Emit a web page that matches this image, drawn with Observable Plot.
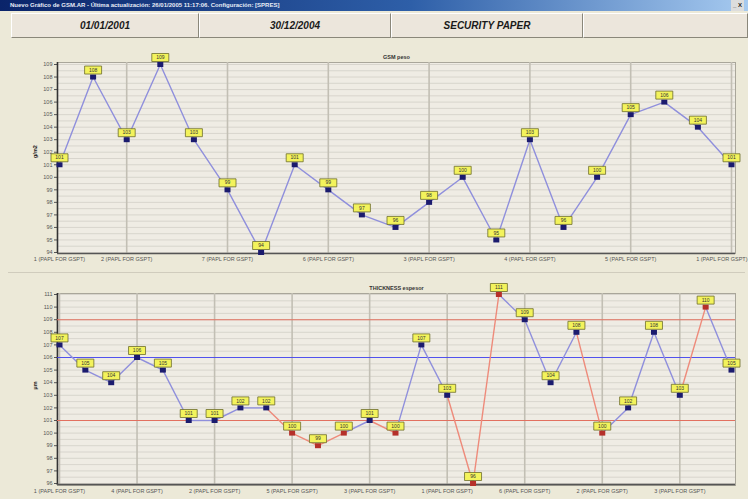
<!DOCTYPE html>
<html><head><meta charset="utf-8">
<script src="https://cdn.jsdelivr.net/npm/d3@7"></script>
<script src="https://cdn.jsdelivr.net/npm/@observablehq/plot@0.6"></script>
<style>
body{margin:0;width:748px;height:499px;overflow:hidden;background:#ece9d8;font-family:"Liberation Sans",Arial,sans-serif;position:relative}
#titlebar{position:absolute;left:0;top:0;width:748px;height:11px;background:linear-gradient(to right,#0a246a,#2e5fa8 55%,#a6caf0);color:#e8ecf6;font-size:6px;line-height:11px;font-weight:bold;white-space:nowrap;overflow:hidden}
#titlebar span{padding-left:10px}
#toolbar{position:absolute;top:13px;left:11px;width:735px;height:25px;display:flex}
.cell{flex:none;height:23px;border-top:1px solid #fff;border-left:1px solid #fff;border-right:1px solid #8a877a;border-bottom:1px solid #8a877a;background:#ece6dc;display:flex;align-items:center;justify-content:center;font-style:italic;font-weight:bold;font-size:10px;color:#1a1a1a}
#top{position:absolute;left:0;top:44px}
#bot{position:absolute;left:0;top:275px}
#sep{position:absolute;left:8px;top:272px;width:737px;height:1px;background:#d0ccbd}
</style></head>
<body>
<div id="titlebar"><span>Nuevo Gráfico de GSM.AR - Última actualización: 26/01/2005 11:17:06. Configuración: [SPRES]</span><span style="position:absolute;right:4px;color:#222;background:#ddd;padding:0 2px">_ X</span></div>
<div id="toolbar">
  <div class="cell" style="width:186px">01/01/2001</div>
  <div class="cell" style="width:190px">30/12/2004</div>
  <div class="cell" style="width:190px">SECURITY PAPER</div>
  <div class="cell" style="width:163px"></div>
</div>
<div id="sep"></div>
<div id="top"></div>
<div id="bot"></div>
<script>
// ---- data ----
const gsmValues = [101,108,103,109,103,99,94,101,99,97,96,98,100,95,103,96,100,105,106,104,101];
const gsmYTicks = [94,95,96,97,98,99,100,101,102,103,104,105,106,107,108,109];
const gsmXTickIdx = [0,2,5,8,11,14,17,20];
const gsmXTickLabels = ["1 (PAPL FOR GSPT)","2 (PAPL FOR GSPT)","7 (PAPL FOR GSPT)","6 (PAPL FOR GSPT)","3 (PAPL FOR GSPT)","4 (PAPL FOR GSPT)","5 (PAPL FOR GSPT)","1 (PAPL FOR GSPT)"];
const gsmGridX = [2,5,8,11,14,17,20];

const thkValues = [107,105,104,106,105,101,101,102,102,100,99,100,101,100,107,103,96,111,109,104,108,100,102,108,103,110,105];
const thkYTicks = [96,97,98,99,100,101,102,103,104,105,106,107,108,109,110,111];
const thkXTickIdx = [0,3,6,9,12,15,18,21,24];
const thkXTickLabels = ["1 (PAPL FOR GSPT)","4 (PAPL FOR GSPT)","2 (PAPL FOR GSPT)","5 (PAPL FOR GSPT)","3 (PAPL FOR GSPT)","1 (PAPL FOR GSPT)","6 (PAPL FOR GSPT)","2 (PAPL FOR GSPT)","3 (PAPL FOR GSPT)"];
const thkGridX = [0,3,6,9,12,15,18,21,24];
const thkUCL = 109, thkCenter = 106, thkLCL = 101;

// ---- styles ----
const FONT = "Liberation Sans, Arial, sans-serif";
const boxSymbol = {draw(ctx){ ctx.rect(-8.5,-4,17,8); }};
const markSymbol = {draw(ctx){ ctx.rect(-3,-2.5,6,5); }};
const NAVY = "#1b1b6e", RED = "#b5302a";

function halfGrid(ticks){ return ticks.flatMap((t,i)=> i<ticks.length-1 ? [t, t+0.5] : [t]); }

function common(values, yTicks, xIdx, xLabels, gridX, title, ylabel, lastEnd){
  const data = values.map((v,i)=>({i, v}));
  const ticks = xIdx.map((d,k)=>({d, label:xLabels[k]}));
  const inner = lastEnd ? ticks.slice(0,-1) : ticks;
  const last = lastEnd ? ticks.slice(-1) : [];
  return {data, marks: [
    Plot.frame({fill:"#efece4", stroke:"#a9a69a"}),
    Plot.ruleY(halfGrid(yTicks), {stroke:"#d2cfc6", strokeWidth:0.8}),
    Plot.ruleX(gridX, {stroke:"#c2bfb4", strokeWidth:1.6}),
    Plot.axisY(yTicks, {anchor:"left", tickSize:3, tickPadding:2, fontSize:5.5, fill:"#555", stroke:"#555", label:null}),
    Plot.text(inner, {x:"d", text:"label", frameAnchor:"bottom", lineAnchor:"top", dy:4, fontSize:5.5, fill:"#555"}),
    Plot.text(last, {x:"d", text:"label", frameAnchor:"bottom", lineAnchor:"top", textAnchor:"end", dy:4, dx:16, fontSize:5.5, fill:"#555"}),
    Plot.text([title], {frameAnchor:"top", dy:-7, fontSize:5.5, fontWeight:"bold", fill:"#333"}),
    Plot.text([ylabel], {frameAnchor:"left", dx:-22, rotate:-90, fontSize:5.5, fontWeight:"bold", fill:"#222"})
  ]};
}

// ---- top chart ----
{
  const c = common(gsmValues, gsmYTicks, gsmXTickIdx, gsmXTickLabels, gsmGridX, "GSM peso", "g/m2", true);
  const plot = Plot.plot({
    width:748, height:226, marginLeft:57, marginRight:13, marginTop:18, marginBottom:17,
    style:{background:"transparent", fontFamily:FONT},
    x:{type:"linear", domain:[0,20], range:[59,731], axis:null},
    y:{domain:[94,109], range:[208,20], axis:null},
    marks:[
      ...c.marks,
      Plot.ruleX([0], {x:()=>-0.06, stroke:"#333", strokeWidth:1.6}),
      Plot.ruleY([94], {stroke:"#555", strokeWidth:1.6, dy:1}),
      Plot.line(c.data, {x:"i", y:"v", stroke:"#8f8fdc", strokeWidth:1.4}),
      Plot.dot(c.data, {x:"i", y:"v", symbol:markSymbol, r:3, fill:NAVY, stroke:"none"}),
      Plot.dot(c.data, {x:"i", y:"v", symbol:boxSymbol, r:3, fill:"#f3f35c", stroke:"#6d6d2c", strokeWidth:0.8, dy:-7}),
      Plot.text(c.data, {x:"i", y:"v", text:"v", dy:-7, fontSize:5, fill:"#333"})
    ]
  });
  document.getElementById("top").appendChild(plot);
}

// ---- bottom chart ----
{
  const c = common(thkValues, thkYTicks, thkXTickIdx, thkXTickLabels, thkGridX, "THICKNESS espesor", "µm", false);
  const isOut = v => v > thkUCL || v < thkLCL;
  const segs = c.data.slice(1).map((d,k)=>({i1:c.data[k].i, v1:c.data[k].v, i2:d.i, v2:d.v, out:isOut(d.v)}));
  const plot = Plot.plot({
    width:748, height:224, marginLeft:57, marginRight:13, marginTop:18, marginBottom:14,
    style:{background:"transparent", fontFamily:FONT},
    x:{type:"linear", domain:[0,26], range:[59,731], axis:null},
    y:{domain:[96,111], range:[208,19], axis:null},
    marks:[
      ...c.marks,
      Plot.ruleX([0], {x:()=>-0.08, stroke:"#333", strokeWidth:1.6}),
      Plot.ruleY([96], {stroke:"#555", strokeWidth:1.6, dy:1}),
      Plot.ruleY([thkUCL, thkLCL], {stroke:"#e2705f", strokeWidth:1.1}),
      Plot.ruleY([thkCenter], {stroke:"#3a3af2", strokeOpacity:0.85, strokeWidth:1.2}),
      Plot.link(segs, {x1:"i1", y1:"v1", x2:"i2", y2:"v2", stroke:d=>d.out?"#ee8a7a":"#8f8fdc", strokeWidth:1.4}),
      Plot.dot(c.data, {x:"i", y:"v", symbol:markSymbol, r:3, fill:d=>isOut(d.v)?RED:NAVY, stroke:"none"}),
      Plot.dot(c.data, {x:"i", y:"v", symbol:boxSymbol, r:3, fill:"#f3f35c", stroke:"#6d6d2c", strokeWidth:0.8, dy:-7}),
      Plot.text(c.data, {x:"i", y:"v", text:"v", dy:-7, fontSize:5, fill:"#333"})
    ]
  });
  document.getElementById("bot").appendChild(plot);
}
</script>
</body></html>
